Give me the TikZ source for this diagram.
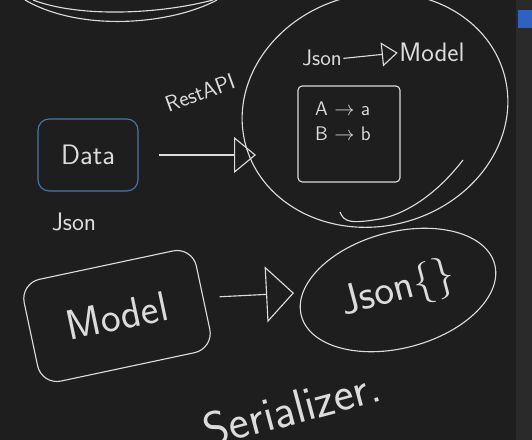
\documentclass[tikz,border=0pt]{standalone}
\usepackage{tikz}
\usetikzlibrary{arrows.meta,positioning,shapes.geometric}
\definecolor{board}{HTML}{1E1E1E}
\definecolor{chalk}{HTML}{DCDCDC}
\definecolor{pen}{HTML}{4A78A8}
\definecolor{sidebar}{HTML}{2A2A2A}
\definecolor{tab}{HTML}{2F62C0}
\newcommand{\handsz}[1]{\fontsize{#1}{#1}\selectfont}

\begin{document}
\begin{tikzpicture}[
  x=0.25mm, y=-0.25mm,
  font=\sffamily,
  hand/.style={text=chalk, inner sep=1pt},
  stroke/.style={draw=chalk, line width=0.8pt},
  box/.style={stroke, text=chalk, rounded corners=8pt, inner sep=0pt},
  blob/.style={stroke, text=chalk, ellipse, inner sep=0pt},
  arr/.style={draw=chalk, line width=0.8pt, -{Triangle[open, length=5.5mm, width=9mm]}},
  bigarr/.style={draw=chalk, line width=0.8pt, -{Triangle[open, length=7mm, width=14mm]}},
  smallarr/.style={draw=chalk, line width=0.8pt, -{Triangle[open, length=4mm, width=6mm]}},
]
  \useasboundingbox (0,0) rectangle (532,440);
  \clip (0,0) rectangle (532,440);
  \fill[board] (0,0) rectangle (532,440);
  \fill[sidebar] (516,0) rectangle (532,440);
  \fill[tab] (518,10) rectangle (532,28);

  % leftover of an earlier sketch
  \draw[stroke] (33,0) .. controls (80,18) and (160,14) .. (213,0);
  \draw[stroke] (25,0) .. controls (80,32) and (170,25) .. (217,0);

  % api side
  \node[box, draw=pen, minimum width=25mm, minimum height=18mm,
        font=\sffamily\handsz{20}] (data) at (88,155) {Data};
  \node[hand, below=5mm of data, xshift=-3.5mm, font=\sffamily\handsz{18}] (jsonlbl) {Json};
  \node[hand, rotate=20, font=\sffamily\handsz{16}] (api) at (200,93) {RestAPI};

  % conversion bubble
  \node[blob, minimum width=67mm, minimum height=58mm, rotate=15] (conv) at (375,110) {};
  \draw[stroke] (340,212) .. controls (344,222) and (350,224) .. (380,219)
    .. controls (410,213) and (440,190) .. (463,160);
  \coordinate (apiend) at (256,155);
  \draw[arr, shorten <=5mm] (data.east) -- (apiend);

  \node[hand, anchor=base, font=\sffamily\handsz{16}] (jsonin) at (322,66) {Json};
  \node[hand, anchor=base, font=\sffamily\handsz{19}] (modelin) at (432,62) {Model};
  \draw[smallarr] (jsonin.east) -- (modelin.west);

  \node[box, rounded corners=3pt, minimum width=25.5mm, minimum height=24mm] (map) at (349,134) {};
  \node[hand, below=4mm of map.north, xshift=-1.5mm, align=left,
        font=\sffamily\handsz{14}, inner sep=0pt] (pairs) {A $\rightarrow$ a\\[4pt] B $\rightarrow$ b};

  % serializer side
  \node[box, rounded corners=14pt, minimum width=44mm, minimum height=26mm, rotate=12,
        font=\sffamily\handsz{30}] (modelbox) at (117,316) {Model};
  \node[blob, minimum width=50mm, minimum height=29mm, rotate=15,
        font=\sffamily\handsz{30}] (jsonout) at (398,290) {Json\{\}};
  \coordinate (jsonend) at (294,293);
  \draw[bigarr, shorten <=4mm] (modelbox.east) -- (jsonend);

  \node[hand, rotate=15, font=\sffamily\handsz{34}] (serial) at (292,408) {Serializer.};
\end{tikzpicture}
\end{document}
